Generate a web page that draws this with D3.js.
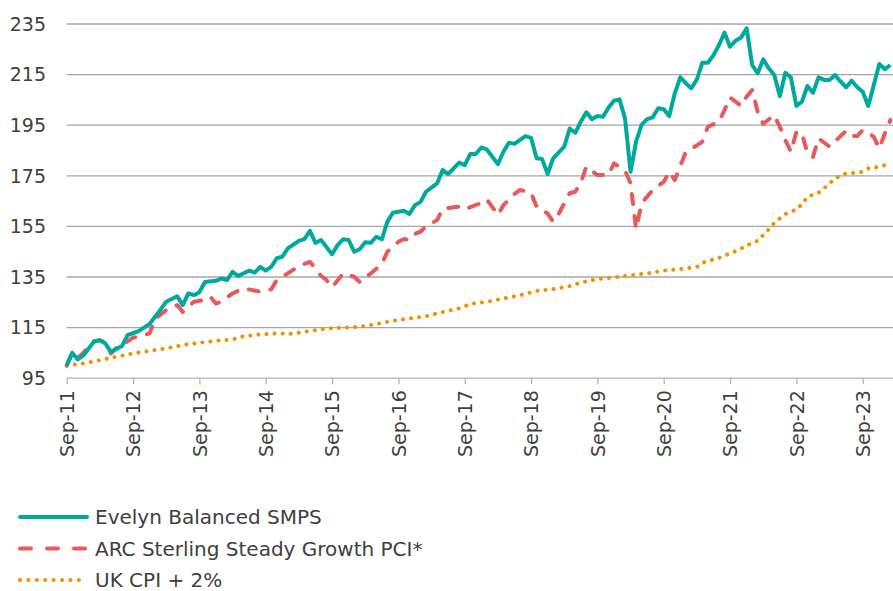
<!DOCTYPE html>
<html>
<head>
<meta charset="utf-8">
<script src="https://cdn.jsdelivr.net/npm/d3@7"></script>
<style>
  body { margin: 0; background: #fff; }
  svg text { font-family: "DejaVu Sans", sans-serif; fill: #404040; }
</style>
</head>
<body>
<div id="chart"></div>
<script>
// ---- data (months counted from Sep-11) ----
const tickLabels = ["Sep-11", "Sep-12", "Sep-13", "Sep-14", "Sep-15", "Sep-16", "Sep-17",
  "Sep-18", "Sep-19", "Sep-20", "Sep-21", "Sep-22", "Sep-23"];
const tickMonths = [0, 12, 24, 36, 48, 60, 72, 84, 96, 108, 120, 132, 144];
const yTicks = [95, 115, 135, 155, 175, 195, 215, 235];
const seriesNames = ["Evelyn Balanced SMPS", "ARC Sterling Steady Growth PCI*", "UK CPI + 2%"];

const evelynMonths = [0, 1, 2, 3, 5, 6, 7, 8, 10, 11, 13, 15, 17, 18, 20, 21, 22, 23, 24, 25, 27, 28, 29, 30,
  31, 33, 34, 35, 36, 37, 38, 39, 40, 42, 43, 44, 45, 46, 48, 49, 50, 51, 52, 53, 54, 55, 56, 57, 58, 59,
  61, 62, 63, 64, 65, 67, 68, 69, 71, 72, 73, 74, 75, 76, 78, 79, 80, 81, 83, 84, 85, 86, 87, 88, 90, 91,
  92, 93, 94, 95, 96, 97, 98, 99, 100, 101, 102, 103, 104, 105, 106, 107, 108, 109, 110, 111, 112, 113,
  114, 115, 116, 117, 118, 119, 120, 121, 122, 123, 124, 125, 126, 127, 128, 129, 130, 131, 132, 133,
  134, 135, 136, 137, 138, 139, 140, 141, 142, 143, 144, 145, 146, 147, 148, 149];
const evelynValues = [100, 105, 102.4, 104, 109.6, 110, 108.7, 105.4, 107.7, 112, 113.6, 116.4, 122.2, 125.2,
  127.4, 123.9, 128.5, 127.8, 129, 133, 133.5, 134.4, 133.8, 137, 135.4, 137.5, 136.7, 139, 137.5, 139,
  142.4, 143, 146.3, 149.3, 150, 153.2, 148.5, 149.6, 144, 147.6, 149.9, 149.6, 145, 146, 148.7, 148.5,
  150.9, 149.9, 156.8, 160.4, 161.2, 159.9, 163.4, 164.7, 168.7, 172, 177.3, 175.7, 180.2, 179.2, 183.6,
  183.6, 186.2, 185.4, 179.6, 184.5, 188.1, 187.6, 190.7, 190, 181.9, 181.6, 175.7, 181.9, 186.5, 193.7,
  192, 196.4, 200.1, 197.4, 198.6, 198.3, 201.9, 204.7, 205.2, 197.7, 176.6, 188.5, 195.1, 197.4, 198.1,
  201.7, 201.3, 198.6, 207.6, 213.9, 211.6, 209.6, 213.1, 219.7, 219.7, 222.7, 226.7, 231.6, 226, 228.4,
  229.7, 233.3, 218.8, 215.5, 221, 217.5, 214.8, 206.5, 215.7, 213.9, 202.6, 204.3, 210.5, 207.8, 213.9,
  212.9, 212.9, 214.8, 212.2, 210, 212.6, 210, 208.2, 202.6, 210.9, 219.2, 217.1, 218.8];

const arcMonths = [0, 1, 2, 3, 4, 5, 6, 7, 8, 9, 10, 11, 12, 13, 15, 16, 18, 20, 21, 23, 25, 26, 27, 28, 30,
  32, 35, 37, 38, 40, 42, 44, 46, 47, 48, 50, 52, 53, 55, 57, 58, 60, 61, 62, 63, 64, 65, 67, 68, 71, 72,
  75, 76, 78, 79, 81, 82, 84, 85, 87, 88, 89, 91, 92, 93, 94, 96, 98, 99, 101, 102, 103, 104, 106, 108,
  109, 110, 112, 114, 115, 116, 118, 119, 120, 122, 123, 124, 125, 126, 128, 129, 130, 131, 132, 133,
  134, 135, 136, 138, 141, 142, 143, 144, 145, 146, 147, 148, 149];
const arcValues = [100, 105, 103, 105, 107.5, 109.5, 110, 109, 104.8, 107, 108.5, 109.5, 111, 111.5, 112.7,
  118.6, 121.9, 123.9, 121.2, 125.2, 126, 127.2, 124.5, 125.2, 128.5, 130.5, 129.2, 130.1, 133.8, 136.4,
  139.3, 141, 135.5, 133.8, 131, 136.4, 135.1, 133, 136.4, 140.1, 145, 148.9, 150, 149.6, 152, 152.9, 155,
  157.5, 162, 162.8, 161.7, 164.3, 165.7, 159.5, 163.4, 167.8, 169.4, 168.3, 162.8, 160.1, 156.8, 160,
  168.1, 168.7, 172.2, 178.6, 175.3, 175.3, 179.9, 177, 172, 154, 164.1, 169.4, 172.6, 176.6, 173.3,
  184.5, 187, 188.5, 194.4, 196.4, 201, 206, 202.6, 206.3, 208.9, 200.3, 195.5, 199, 194.4, 189.1, 184.5,
  192.4, 191.8, 183.9, 182.5, 189.8, 186.5, 192.8, 190.7, 190.7, 193.1, 192, 190.4, 185.8, 191.8, 197,
  202.3, 206.3];

const cpiMonths = [0, 3, 6, 9, 12, 15, 18, 21, 24, 27, 30, 32, 35, 38, 41, 44, 47, 50, 53, 56, 59, 62, 65,
  68, 71, 73, 76, 79, 82, 85, 88, 91, 93, 96, 99, 102, 105, 108, 111, 114, 115, 118, 121, 124, 125, 127,
  128, 130, 132, 133, 134, 136, 137, 139, 141, 142, 144, 145, 147, 148, 149];
const cpiValues = [100, 100.8, 102.1, 103.5, 104.8, 105.8, 106.8, 108.1, 109, 109.8, 110.3, 111.6, 112.3,
  112.7, 112.6, 113.7, 114.6, 115, 115.3, 116.4, 117.7, 118.6, 119.5, 121.2, 122.6, 124.3, 125.2, 126.5,
  127.8, 129.5, 130.2, 131.4, 132.8, 134.2, 134.8, 135.7, 136.4, 137.5, 138.1, 139, 140.6, 142.6, 145.2,
  148.5, 149.3, 153.8, 156.4, 159.9, 161.7, 163.8, 166.7, 168.3, 170, 174, 176, 176, 176.6, 177.9, 178.6,
  179.2, 179.5];

const seriesColors = ["#00a99d", "#e65a5c", "#f39200"];

// ---- layout ----
const W = 893, H = 591;
const svg = d3.select("#chart").append("svg")
  .attr("width", W)
  .attr("height", H);

const x = d3.scaleLinear().domain([0, 150]).range([66.7, 895.9]);
const y = d3.scaleLinear().domain([95, 235]).range([378.2, 24]);

// gridlines
svg.append("g")
  .selectAll("line")
  .data(yTicks.slice(1))
  .enter().append("line")
  .attr("x1", x(0)).attr("x2", W)
  .attr("y1", d => y(d)).attr("y2", d => y(d))
  .attr("stroke", "#a6a6a6")
  .attr("stroke-width", 1.3);

// y labels
svg.append("g")
  .selectAll("text")
  .data(yTicks)
  .enter().append("text")
  .attr("x", 46)
  .attr("y", d => y(d))
  .attr("dy", "0.36em")
  .attr("text-anchor", "end")
  .style("font-size", "19px")
  .text(d => d);

// x axis
const xAxis = d3.axisBottom(x)
  .tickValues(tickMonths)
  .tickFormat((d, i) => tickLabels[i])
  .tickSize(6)
  .tickSizeOuter(0);

const gx = svg.append("g")
  .attr("transform", `translate(0,${y(95)})`)
  .call(xAxis);
gx.select(".domain").attr("stroke", "#b3b3b3").attr("stroke-width", 1.3)
  .attr("d", `M${x(0)},0H${W}`);
gx.selectAll(".tick line").attr("stroke", "#b3b3b3").attr("stroke-width", 1.3);
gx.selectAll(".tick text")
  .attr("transform", "rotate(-90)")
  .attr("x", -12)
  .attr("y", 0)
  .attr("dy", "0.36em")
  .attr("text-anchor", "end")
  .attr("fill", "#404040")
  .style("font-size", "19px")
  .style("font-family", "DejaVu Sans");

// lines
const line = d3.line()
  .x(d => x(d[0]))
  .y(d => y(d[1]));

const plot = svg.append("g");

plot.append("path")
  .datum(cpiMonths.map((m, i) => [m, cpiValues[i]]))
  .attr("fill", "none")
  .attr("stroke", seriesColors[2])
  .attr("stroke-width", 4)
  .attr("stroke-linecap", "round")
  .attr("stroke-dasharray", "0.1 8")
  .attr("d", line);

plot.append("path")
  .datum(arcMonths.map((m, i) => [m, arcValues[i]]))
  .attr("fill", "none")
  .attr("stroke", seriesColors[1])
  .attr("stroke-width", 4)
  .attr("stroke-dasharray", "10 12")
  .attr("stroke-linecap", "round")
  .attr("stroke-linejoin", "round")
  .attr("d", line);

plot.append("path")
  .datum(evelynMonths.map((m, i) => [m, evelynValues[i]]))
  .attr("fill", "none")
  .attr("stroke", seriesColors[0])
  .attr("stroke-width", 4)
  .attr("stroke-linejoin", "round")
  .attr("d", line);

// legend
const legendDash = [null, "11 16", "0.1 8.3"];
const legendCap = ["round", "round", "round"];
const legend = svg.append("g")
  .selectAll("g")
  .data(seriesNames)
  .enter().append("g")
  .attr("transform", (d, i) => `translate(0,${517 + i * 31.5})`);

legend.append("line")
  .attr("x1", 20).attr("x2", 87)
  .attr("y1", 0).attr("y2", 0)
  .attr("stroke", (d, i) => seriesColors[i])
  .attr("stroke-width", 4)
  .attr("stroke-linecap", (d, i) => legendCap[i])
  .attr("stroke-dasharray", (d, i) => legendDash[i]);

legend.append("text")
  .attr("x", 95)
  .attr("y", 0)
  .attr("dy", "0.36em")
  .style("font-size", "20px")
  .text(d => d);
</script>
</body>
</html>
